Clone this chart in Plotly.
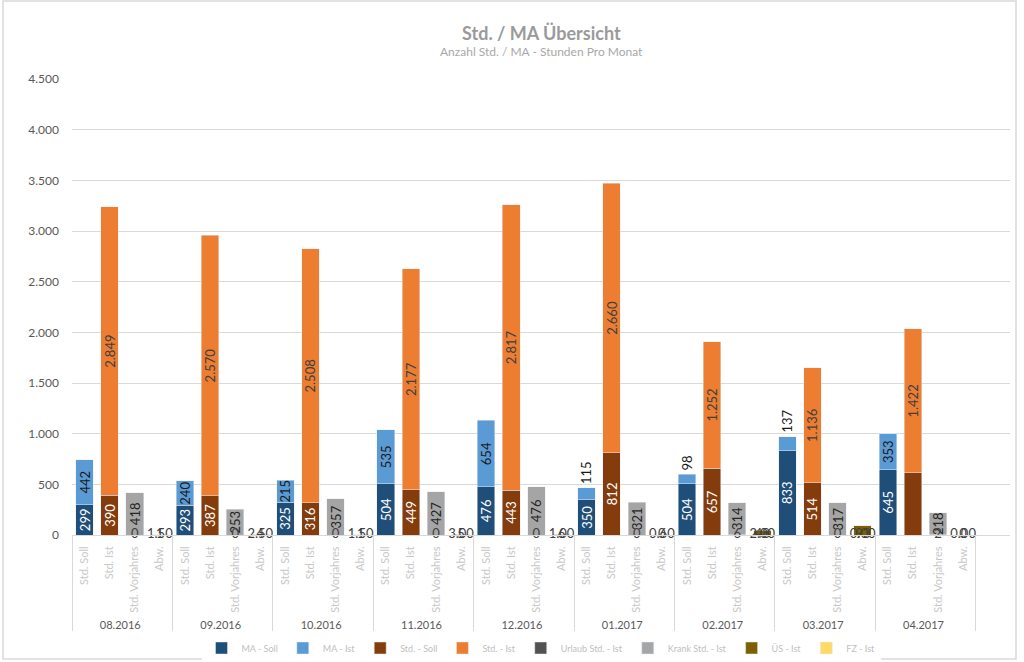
import plotly.graph_objects as go

months = ["08.2016", "09.2016", "10.2016", "11.2016", "12.2016",
          "01.2017", "02.2017", "03.2017", "04.2017"]
subs = ["Std. Soll", "Std. Ist", "Std. Vorjahres", "Abw."]

s_dark_blue = [299, 293, 325, 504, 476, 350, 504, 833, 645]
s_light_blue = [442, 240, 215, 535, 654, 115, 98, 137, 353]
s_brown = [390, 387, 316, 449, 443, 812, 657, 514, 612]
s_orange = [2849, 2570, 2508, 2177, 2817, 2660, 1252, 1136, 1422]
s_dark_gray = [0, 0, 0, 0, 0, 0, 6, 0, 2]
s_light_gray = [418, 253, 357, 427, 476, 321, 314, 317, 218]
s_olive = [1, 4, 1, 5, 6, 0, 48, 93, 0]
s_yellow = [1.5, 2.5, 1.5, 3.0, 1.0, 0.6, 2.0, 0.0, 0.0]

series_names = ["MA - Soll", "MA - Ist", "Std. - Soll", "Std. - Ist",
                "Urlaub Std. - Ist", "Krank Std. - Ist", "ÜS - Ist", "FZ - Ist"]
colors = ["#1f4e79", "#5b9bd5", "#843c0c", "#ed7d31", "#525252", "#a5a5a5", "#7f6000", "#ffd966"]

title_text = "Std. / MA Übersicht"
subtitle_text = "Anzahl Std. / MA - Stunden Pro Monat"

FONT = "Lato"
SUB_COLOR = "#c8c8c8"
sub_labels = [f"<span style='color:{SUB_COLOR}'>{s}</span>" for s in subs]


def xs(k):
    return [months, [sub_labels[k]] * len(months)]


def fmt(v):
    return f"{v:,.0f}".replace(",", ".")


fig = go.Figure()
common = dict(textangle=-90, insidetextanchor="middle", constraintext="none", cliponaxis=False)

# bar 1
fig.add_trace(go.Bar(x=xs(0), y=s_dark_blue, name=series_names[0], marker_color=colors[0],
                     text=[fmt(v) for v in s_dark_blue], textposition="inside",
                     textfont=dict(color="white", size=13, family=FONT), **common))
small = [v < 200 for v in s_light_blue]
fig.add_trace(go.Bar(x=xs(0), y=s_light_blue, name=series_names[1], marker_color=colors[1],
                     text=["" if s else fmt(v) for v, s in zip(s_light_blue, small)],
                     textposition="inside",
                     textfont=dict(color="#1a1a1a", size=13, family=FONT), **common))
# bar 2
br_text = [fmt(v) for v in s_brown]
br_text[-1] = ""
fig.add_trace(go.Bar(x=xs(1), y=s_brown, name=series_names[2], marker_color=colors[2],
                     text=br_text, textposition="inside",
                     textfont=dict(color="white", size=13, family=FONT), **common))
fig.add_trace(go.Bar(x=xs(1), y=s_orange, name=series_names[3], marker_color=colors[3],
                     text=[fmt(v) for v in s_orange], textposition="inside",
                     textfont=dict(color="#404040", size=13, family=FONT), **common))
# bar 3
fig.add_trace(go.Bar(x=xs(2), y=s_dark_gray, name=series_names[4], marker_color=colors[4]))
fig.add_trace(go.Bar(x=xs(2), y=s_light_gray, name=series_names[5], marker_color=colors[5],
                     text=[fmt(v) for v in s_light_gray], textposition="inside",
                     textfont=dict(color="#262626", size=13, family=FONT), **common))
# bar 4
fig.add_trace(go.Bar(x=xs(3), y=s_olive, name=series_names[6], marker_color=colors[6]))
fig.add_trace(go.Bar(x=xs(3), y=s_yellow, name=series_names[7], marker_color=colors[7]))

# baseline labels for tiny segments
fig.add_trace(go.Scatter(x=xs(2), y=[0] * len(months), mode="text",
                         text=[fmt(v) for v in s_dark_gray], textposition="middle center",
                         textfont=dict(color="#404040", size=13, family=FONT),
                         showlegend=False, hoverinfo="skip", cliponaxis=False))
fig.add_trace(go.Scatter(x=xs(3), y=[0] * len(months), mode="text",
                         text=[fmt(v) for v in s_olive], textposition="middle center",
                         textfont=dict(color="#404040", size=13, family=FONT),
                         showlegend=False, hoverinfo="skip", cliponaxis=False))
fig.add_trace(go.Scatter(x=xs(3), y=[0] * len(months), mode="text",
                         text=[f"{v:.2f}" for v in s_yellow], textposition="middle center",
                         textfont=dict(color="#404040", size=13, family=FONT),
                         showlegend=False, hoverinfo="skip", cliponaxis=False))

# rotated labels above small light-blue segments
annotations = []
for i, (b, v, s) in enumerate(zip(s_dark_blue, s_light_blue, small)):
    if s:
        annotations.append(dict(x=i * len(subs) + 0, y=b + v, xref="x", yref="y",
                                text=fmt(v), textangle=-90, showarrow=False,
                                xanchor="center", yanchor="bottom", yshift=2,
                                font=dict(color="#1a1a1a", size=13, family=FONT)))

W, H = 1024, 662
ml, mr, mt, mb = 72, 14, 79, 127
pw, ph = W - ml - mr, H - mt - mb


def px_x(p):
    return (p - ml) / pw


def px_y(p):
    return (H - mb - p) / ph


annotations.append(dict(x=0.5, y=px_y(33), xref="paper", yref="paper", text=f"<b>{title_text}</b>",
                        showarrow=False, xanchor="center", yanchor="middle",
                        font=dict(size=18, color="#9a9a9a", family=FONT)))
annotations.append(dict(x=0.5, y=px_y(51), xref="paper", yref="paper", text=subtitle_text,
                        showarrow=False, xanchor="center", yanchor="middle",
                        font=dict(size=12, color="#a8a8a8", family=FONT)))

fig.update_layout(
    width=W, height=H,
    margin=dict(l=ml, r=mr, t=mt, b=mb, autoexpand=False),
    paper_bgcolor="white", plot_bgcolor="white",
    barmode="stack", bargap=0.3,
    separators=",.",
    font=dict(family=FONT, color="#595959", size=12),
    annotations=annotations,
    legend=dict(orientation="h", x=0.5, xanchor="center", y=px_y(648), yanchor="middle",
                font=dict(size=9, color="#c0c0c0", family=FONT), traceorder="normal",
                itemwidth=30),
    xaxis=dict(type="multicategory", tickangle=-90, showline=True, linecolor="#d9d9d9",
               showdividers=True, dividercolor="#d9d9d9", dividerwidth=1,
               tickfont=dict(size=11, color="#595959", family=FONT),
               ticks="", ticklabelstandoff=6, automargin=False),
    yaxis=dict(range=[0, 4500], dtick=500, tickformat=",d", showgrid=True, gridcolor="#d9d9d9",
               zeroline=False, ticks="", ticklabelstandoff=12,
               tickfont=dict(size=12, color="#595959", family=FONT),
               automargin=False),
    shapes=[dict(type="rect", xref="paper", yref="paper", x0=px_x(3), x1=px_x(1016),
                 y0=px_y(659), y1=px_y(1), line=dict(color="#d9d9d9", width=1.5),
                 fillcolor="rgba(0,0,0,0)", layer="below")],
)

fig.write_html("out.html", config={"displayModeBar": False},
               post_script="document.body.style.margin='0';document.body.style.overflow='hidden';")
